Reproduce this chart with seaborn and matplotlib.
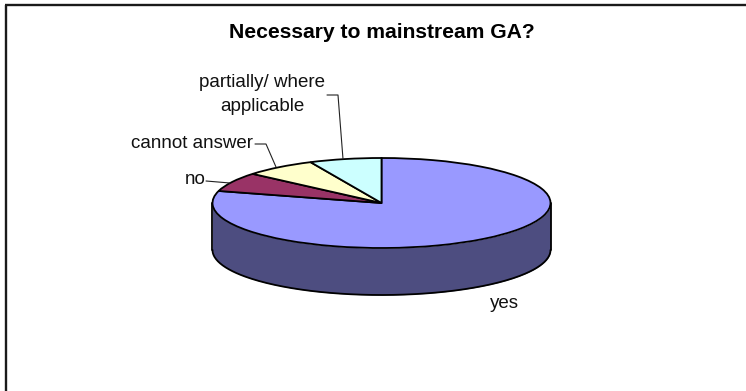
import numpy as np
import matplotlib
matplotlib.use("Agg")
import matplotlib.pyplot as plt
import seaborn as sns

categories = ["yes", "no", "cannot answer", "partially/ where\napplicable"]
values = [23, 2, 2, 2]
colors = ["#9999FF", "#993366", "#FFFFCC", "#CCFFFF"]
side_color = "#4D4D80"

W, H = 746, 391
CX, CY, RX, RY, DEPTH = 381.5, 203, 169, 45, 47

sns.set_theme(style="white")
plt.rcParams["font.family"] = ["Liberation Sans", "DejaVu Sans"]

fig = plt.figure(figsize=(W / 100, H / 100), dpi=100, facecolor="white")

# pie axes: one data unit equals the ellipse radii, so the circle becomes the 3D top
ax = fig.add_axes([0, 0, 1, 1])
ax.pie(values, colors=colors, startangle=90, counterclock=False, radius=1,
       center=(0, 0), wedgeprops=dict(edgecolor="black", linewidth=1.3, zorder=3))
ax.set_aspect("auto")
ax.set_xlim(-CX / RX, (W - CX) / RX)
ax.set_ylim((CY - H) / RY, CY / RY)
ax.axis("off")

# wall of the disc, front half of the first slice
t = np.linspace(-np.pi / 2, np.pi / 2, 200)
d = DEPTH / RY
ax.fill_between(np.sin(t), -np.cos(t) - d, -np.cos(t), color=side_color, lw=0, zorder=1)
ax.plot(np.sin(t), -np.cos(t) - d, color="black", lw=1.3, zorder=2)
ax.plot([-1, -1], [0, -d], color="black", lw=1.3, zorder=2)
ax.plot([1, 1], [0, -d], color="black", lw=1.3, zorder=2)

# overlay in pixel coordinates for frame, text and leader lines
ov = fig.add_axes([0, 0, 1, 1], facecolor="none")
ov.set_xlim(0, W)
ov.set_ylim(H, 0)
ov.axis("off")

ov.plot([5.7, 5.7], [H, 4.5], color="#1a1a1a", lw=1.7, solid_capstyle="butt")
ov.plot([5, W], [5.2, 5.2], color="#1a1a1a", lw=1.7, solid_capstyle="butt")

ov.text(381.5, 32.5, "Necessary to mainstream GA?", ha="center", va="center",
        fontsize=15.2, fontweight="bold", color="black")

fs = 13.5
ov.text(504, 303, categories[0], ha="center", va="center", fontsize=fs, color="#111111")
ov.text(195, 180, categories[1], ha="center", va="center", fontsize=fs, color="#111111")
ov.text(192, 143, categories[2], ha="center", va="center", fontsize=fs, color="#111111")
ov.text(262, 94.5, categories[3], ha="center", va="center", fontsize=fs, color="#111111",
        linespacing=1.5)

lc = dict(color="#222222", lw=0.8)
ov.plot([206, 230], [181, 183], **lc)
ov.plot([255, 266, 276], [144, 144, 167], **lc)
ov.plot([327, 338, 343], [95, 95, 159], **lc)

fig.savefig("out.png", dpi=100, facecolor="white")
